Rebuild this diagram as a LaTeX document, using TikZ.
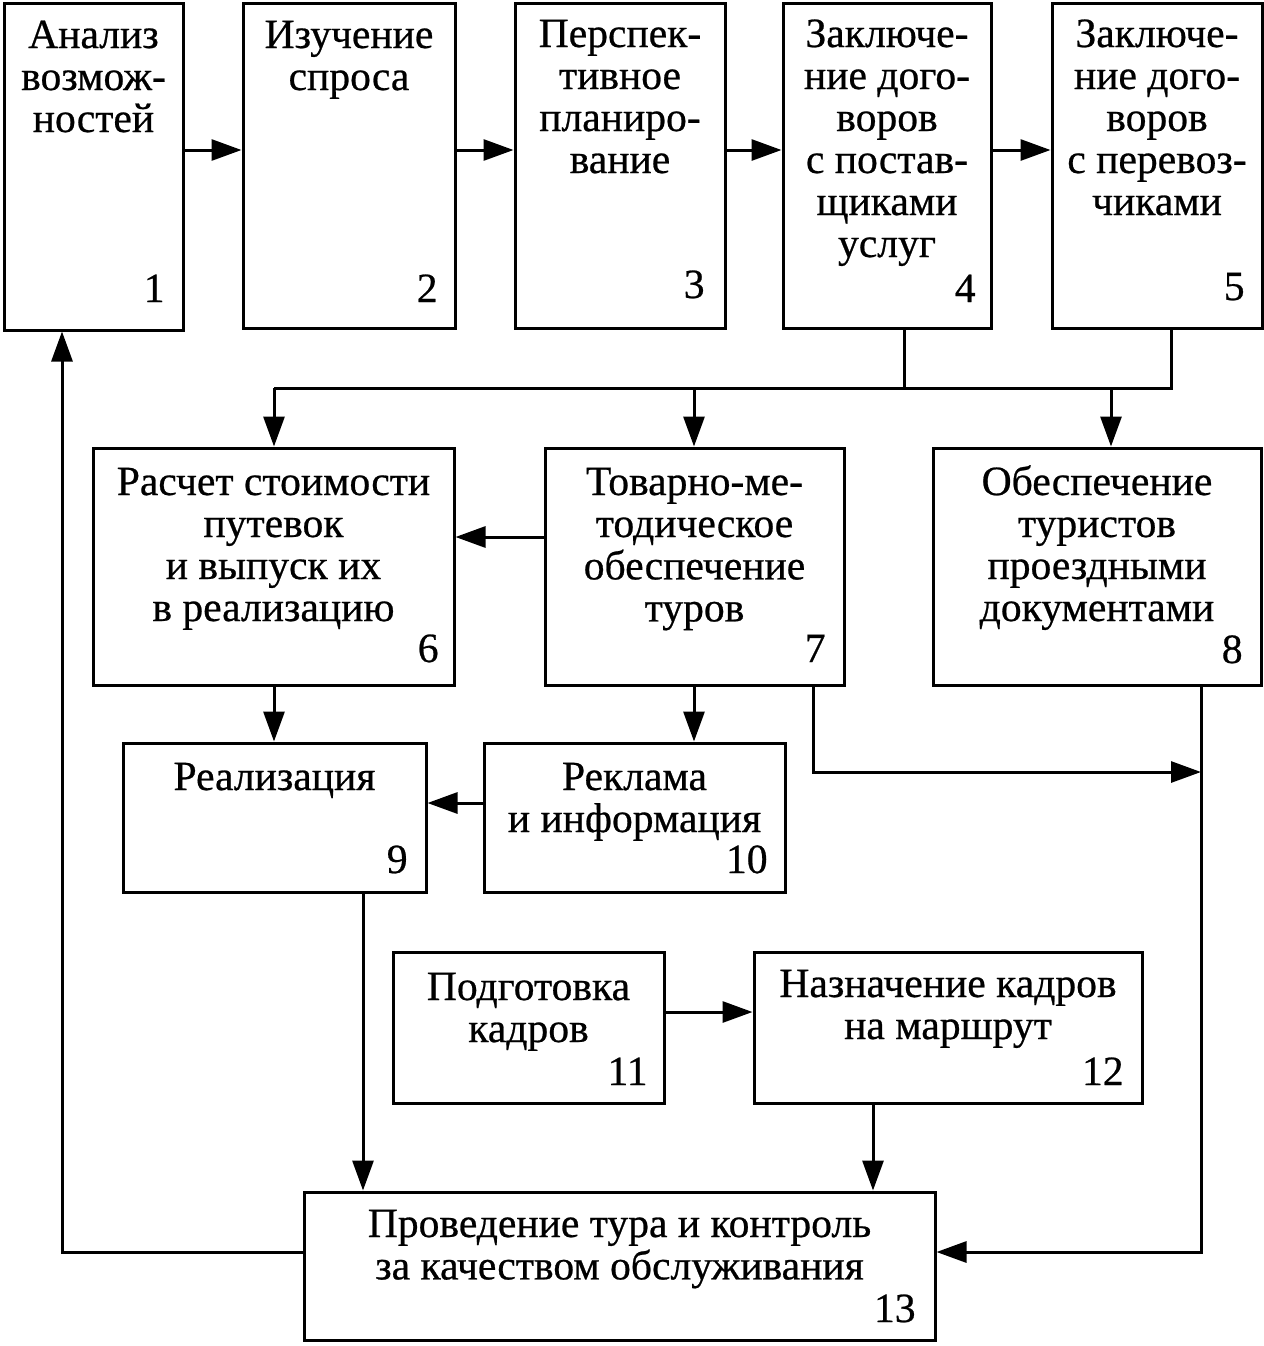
\documentclass[tikz,border=0pt]{standalone}
\usepackage{fontspec}
\setmainfont{Liberation Serif}[FakeBold=0.6]
\usetikzlibrary{arrows.meta,fit}
\newcommand\mylines[1]{\begin{tabular}[t]{@{}c@{}}#1\end{tabular}}
\begin{document}
\begin{tikzpicture}[x=0.5pt,y=-0.5pt,
  box/.style={draw, line width=1.5pt, inner sep=0pt},
  txt/.style={anchor=base, inner sep=0pt, font=\fontsize{20.8}{21}\selectfont},
  num/.style={anchor=base east, inner sep=0pt, font=\fontsize{20.8}{21}\selectfont},
  ln/.style={line width=1.5pt},
  arr/.style={line width=1.5pt, -{Triangle[length=15pt,width=10.5pt]}}]
\useasboundingbox (0,0) rectangle (1264,1346);
% boxes
\node[box, fit={(4,3)(183,330)}] (b1) {};
\node[box, fit={(243,3)(455,328)}] (b2) {};
\node[box, fit={(515,3)(725,328)}] (b3) {};
\node[box, fit={(783,3)(991,328)}] (b4) {};
\node[box, fit={(1052,3)(1262,328)}] (b5) {};
\node[box, fit={(93,448)(454,685)}] (b6) {};
\node[box, fit={(545,448)(844,685)}] (b7) {};
\node[box, fit={(933,448)(1261,685)}] (b8) {};
\node[box, fit={(123,743)(426,892)}] (b9) {};
\node[box, fit={(484,743)(785,892)}] (b10) {};
\node[box, fit={(393,952)(664,1103)}] (b11) {};
\node[box, fit={(754,952)(1142,1103)}] (b12) {};
\node[box, fit={(304,1192)(935,1340)}] (b13) {};
% texts
\node[txt] (t1) at (b1.north |- 0,48) {\mylines{Анализ\\возмож-\\ностей}};
\node[txt] (t2) at (b2.north |- 0,48) {\mylines{Изучение\\спроса}};
\node[txt] (t3) at (b3.north |- 0,47) {\mylines{Перспек-\\тивное\\планиро-\\вание}};
\node[txt] (t4) at (b4.north |- 0,47) {\mylines{Заключе-\\ние дого-\\воров\\с постав-\\щиками\\услуг}};
\node[txt] (t5) at (b5.north |- 0,47) {\mylines{Заключе-\\ние дого-\\воров\\с перевоз-\\чиками}};
\node[txt] (t6) at (b6.north |- 0,495) {\mylines{Расчет стоимости\\путевок\\и выпуск их\\в реализацию}};
\node[txt] (t7) at (b7.north |- 0,495) {\mylines{Товарно-ме-\\тодическое\\обеспечение\\туров}};
\node[txt] (t8) at (b8.north |- 0,495) {\mylines{Обеспечение\\туристов\\проездными\\документами}};
\node[txt] (t9) at (b9.north |- 0,790) {\mylines{Реализация}};
\node[txt] (t10) at (b10.north |- 0,790) {\mylines{Реклама\\и информация}};
\node[txt] (t11) at (b11.north |- 0,1000) {\mylines{Подготовка\\кадров}};
\node[txt] (t12) at (b12.north |- 0,997) {\mylines{Назначение кадров\\на маршрут}};
\node[txt] (t13) at (b13.north |- 0,1237) {\mylines{Проведение тура и контроль\\за качеством обслуживания}};
% numbers
\node[num] (n1) at (165,302) {1};
\node[num] (n2) at (438,302) {2};
\node[num] (n3) at (705,298) {3};
\node[num] (n4) at (976,302) {4};
\node[num] (n5) at (1245,300) {5};
\node[num] (n6) at (439,662) {6};
\node[num] (n7) at (826,662) {7};
\node[num] (n8) at (1243,663) {8};
\node[num] (n9) at (408,873) {9};
\node[num] (n10) at (768,873) {10};
\node[num] (n11) at (648,1085) {11};
\node[num] (n12) at (1124,1085) {12};
\node[num] (n13) at (916,1322) {13};
% helper coordinates
\coordinate (r1) at (0,150);
\coordinate (j4) at (904,388);
\coordinate (j5) at (1171,388);
\coordinate (j6) at (274,388);
\coordinate (j7) at (694,388);
\coordinate (j8) at (1111,388);
\coordinate (r67) at (0,537);
\coordinate (r109) at (0,803);
\coordinate (k1) at (813,772);
\coordinate (k2) at (1201,772);
\coordinate (k3) at (1201,1252);
\coordinate (c9) at (363,0);
\coordinate (r1112) at (0,1012);
\coordinate (c12) at (873,0);
\coordinate (f1) at (62,1252);
% connectors
\draw[arr] (b1.east |- r1) -- (b2.west |- r1);
\draw[arr] (b2.east |- r1) -- (b3.west |- r1);
\draw[arr] (b3.east |- r1) -- (b4.west |- r1);
\draw[arr] (b4.east |- r1) -- (b5.west |- r1);
\draw[ln] (b4.south -| j4) -- (j4);
\draw[ln] (b5.south -| j5) -- (j5) -- (j6);
\draw[arr] (j6) -- (b6.north -| j6);
\draw[arr] (j7) -- (b7.north -| j7);
\draw[arr] (j8) -- (b8.north -| j8);
\draw[arr] (b7.west |- r67) -- (b6.east |- r67);
\draw[arr] (b6.south -| j6) -- (b9.north -| j6);
\draw[arr] (b7.south -| j7) -- (b10.north -| j7);
\draw[arr] (b10.west |- r109) -- (b9.east |- r109);
\draw[arr] (b7.south -| k1) -- (k1) -- (k2);
\draw[arr] (b8.south -| k3) -- (k3) -- (b13.east |- k3);
\draw[arr] (b9.south -| c9) -- (b13.north -| c9);
\draw[arr] (b11.east |- r1112) -- (b12.west |- r1112);
\draw[arr] (b12.south -| c12) -- (b13.north -| c12);
\draw[arr] (b13.west |- f1) -- (f1) -- (b1.south -| f1);
\end{tikzpicture}
\end{document}
